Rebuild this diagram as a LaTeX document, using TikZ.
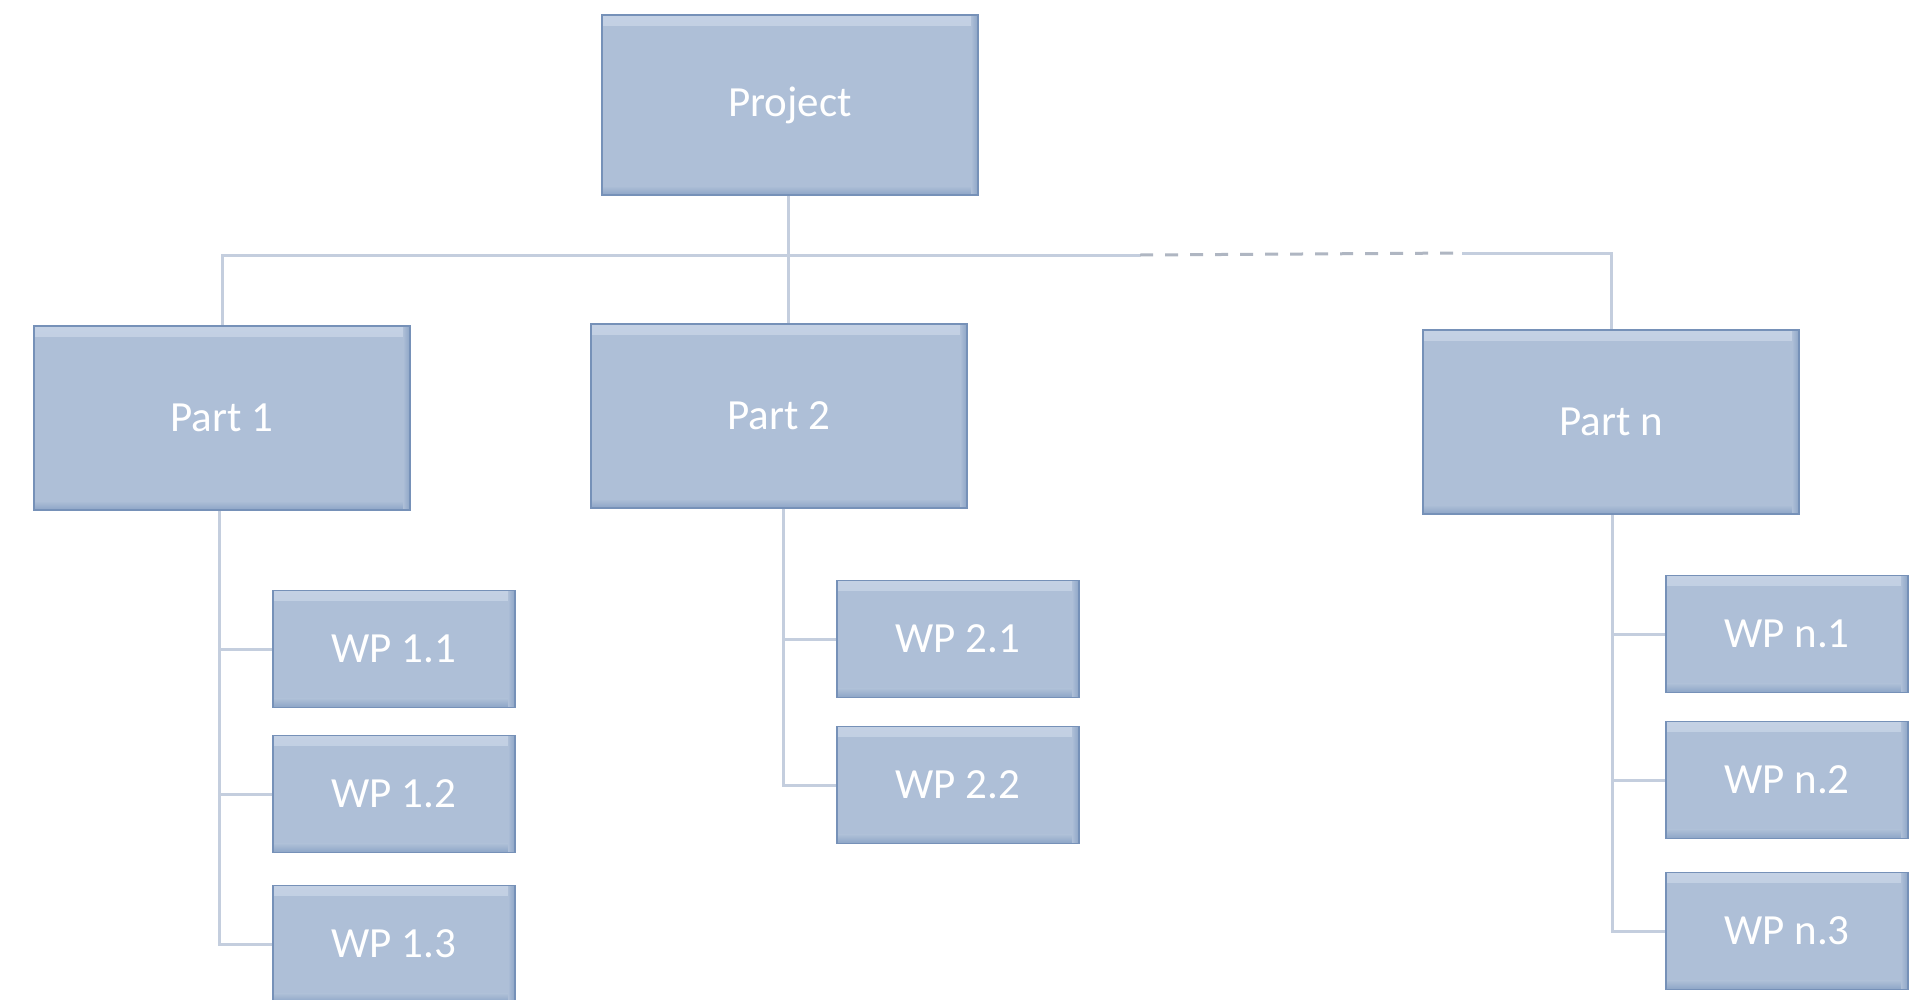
\documentclass[tikz,border=0pt]{standalone}
\usepackage{fontspec}
\setmainfont{Carlito}
\definecolor{boxfill}{RGB}{174,191,215}
\definecolor{boxedge}{RGB}{118,145,184}
\definecolor{boxlight}{RGB}{196,209,228}
\definecolor{boxdark}{RGB}{140,164,198}
\definecolor{linkcol}{RGB}{196,206,222}
\definecolor{dashcol}{RGB}{175,182,194}
\tikzset{
  wbsbox/.style={rectangle, fill=boxfill, draw=boxedge, line width=1.6pt,
    text=white, inner sep=0pt, font=\fontsize{43}{50}\selectfont,
    path picture={
      % bevel: light top edge, darker bottom and right edges
      \shade[top color=boxlight, bottom color=boxfill]
        (path picture bounding box.north west) rectangle
        ([yshift=-10pt]path picture bounding box.north east);
      \shade[top color=boxfill, bottom color=boxdark]
        ([yshift=9pt]path picture bounding box.south west) rectangle
        (path picture bounding box.south east);
      \shade[left color=boxfill, right color=boxdark]
        ([xshift=-7pt]path picture bounding box.north east) rectangle
        (path picture bounding box.south east);
    }},
  partbox/.style={wbsbox, minimum width=376pt, minimum height=184pt},
  topbox/.style={wbsbox, minimum width=376pt, minimum height=180pt},
  wpbox/.style={wbsbox, minimum width=242pt, minimum height=117pt},
  conn/.style={draw=linkcol, line width=3pt},
}
\begin{document}
\begin{tikzpicture}[x=1pt, y=-1pt]
\useasboundingbox[fill=white] (0,0) rectangle (1922,999);

% top level
\node[topbox] (proj) at (790,105) {Project};

% parts
\node[partbox] (p1) at (222,418) {Part 1};
\node[partbox] (p2) at (779,416) {Part 2};
\node[partbox] (pn) at (1611,422) {Part n};

% work packages
\node[wpbox] (wp11) at (394,649) {WP 1.1};
\node[wpbox] (wp12) at (394,794) {WP 1.2};
\node[wpbox] (wp13) at (394,944) {WP 1.3};
\node[wpbox] (wp21) at (958,639) {WP 2.1};
\node[wpbox] (wp22) at (958,785) {WP 2.2};
\node[wpbox] (wpn1) at (1787,634) {WP n.1};
\node[wpbox] (wpn2) at (1787,780) {WP n.2};
\node[wpbox] (wpn3) at (1787,931) {WP n.3};

% horizontal bus with the elided section
\coordinate (busL) at (p1.north |- 0,255);
\coordinate (dashA) at (1140,255);
\coordinate (dashB) at (1462,253);
\coordinate (busR) at (pn.north |- 0,253);

\draw[conn] (p1.north) -- (busL) -- (dashA);
\draw[conn, draw=dashcol, dash pattern=on 13pt off 12pt] (dashA) -- (dashB);
\draw[conn] (dashB) -- (busR) -- (pn.north);
\draw[conn] ([xshift=-2pt]proj.south) -- ([xshift=-2pt]proj.south |- p2.north);

% trunks to work packages
\coordinate (t1) at ([xshift=-3pt]p1.south);
\coordinate (t2) at ([xshift=4pt]p2.south);
\coordinate (tn) at ([xshift=1pt]pn.south);

\draw[conn] (t1) |- (wp13.west);
\draw[conn] (t1 |- wp11.west) -- (wp11.west);
\draw[conn] (t1 |- wp12.west) -- (wp12.west);

\draw[conn] (t2) |- (wp22.west);
\draw[conn] (t2 |- wp21.west) -- (wp21.west);

\draw[conn] (tn) |- (wpn3.west);
\draw[conn] (tn |- wpn1.west) -- (wpn1.west);
\draw[conn] (tn |- wpn2.west) -- (wpn2.west);
\end{tikzpicture}
\end{document}
